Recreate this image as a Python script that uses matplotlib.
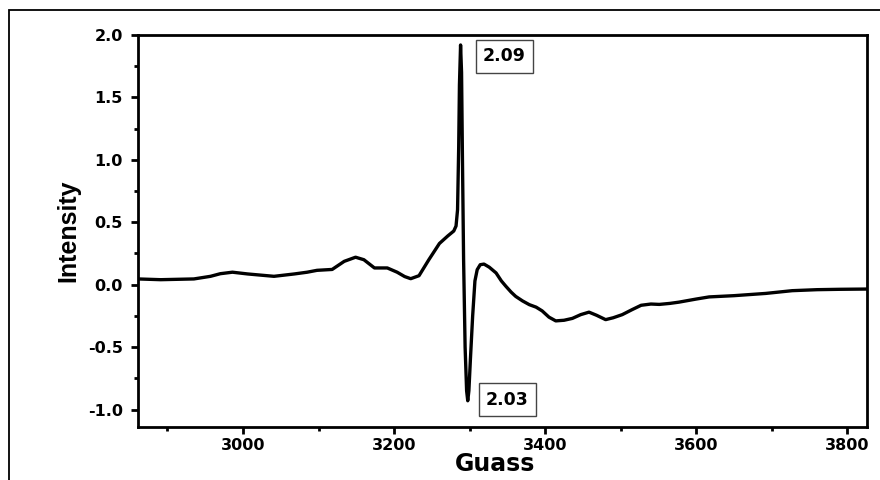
import matplotlib.pyplot as plt
from matplotlib.patches import Rectangle
from matplotlib.ticker import MultipleLocator

# EPR spectrum
field = [2861, 2891, 2935, 2957, 2970, 2986, 3006, 3041, 3068, 3085, 3098,
         3118, 3134, 3149, 3160, 3174, 3191, 3204, 3214, 3222, 3233, 3246,
         3260, 3271, 3279, 3282, 3284, 3285.5, 3286.5, 3288, 3289.3, 3290.5,
         3292, 3294, 3296, 3297.5, 3299, 3301, 3304, 3307, 3310, 3314, 3319,
         3326, 3335, 3342, 3348, 3355, 3361, 3370, 3379, 3388, 3396, 3405,
         3414, 3425, 3436, 3447, 3458, 3468, 3480, 3490, 3502, 3515, 3527,
         3540, 3551, 3565, 3577, 3600, 3617, 3650, 3692, 3727, 3760, 3790,
         3826]
intensity = [0.046, 0.04, 0.046, 0.067, 0.088, 0.10, 0.086, 0.067, 0.086, 0.10, 0.115,
             0.122, 0.187, 0.22, 0.20, 0.134, 0.134, 0.10, 0.065, 0.048, 0.072, 0.20,
             0.33, 0.39, 0.43, 0.47, 0.6, 1.1, 1.6, 1.92, 1.7, 1.0,
             0.2, -0.5, -0.85, -0.93, -0.85, -0.6, -0.25, 0.03, 0.12, 0.16, 0.165,
             0.14, 0.094, 0.03, -0.013, -0.06, -0.094, -0.13, -0.16, -0.18, -0.21, -0.26,
             -0.29, -0.285, -0.27, -0.24, -0.22, -0.245, -0.28, -0.265, -0.24, -0.2, -0.165,
             -0.155, -0.158, -0.15, -0.14, -0.115, -0.098, -0.088, -0.07, -0.048, -0.04, -0.037,
             -0.035]

labels = ['2.09', '2.03']
label_pos = [(3346, 1.83), (3350, -0.92)]

plt.rcParams['font.family'] = 'DejaVu Sans'
plt.rcParams['font.weight'] = 'bold'

fig = plt.figure(figsize=(8.8, 4.8), dpi=100)
ax = fig.add_axes([138 / 880, 1 - 427 / 480, (867 - 138) / 880, (427 - 35) / 480])

ax.plot(field, intensity, color='black', linewidth=2.4, solid_joinstyle='round',
        solid_capstyle='round')

ax.set_xlim(2861, 3826)
ax.set_ylim(-1.14, 2.0)
ax.xaxis.set_major_locator(MultipleLocator(200))
ax.xaxis.set_minor_locator(MultipleLocator(100))
ax.yaxis.set_major_locator(MultipleLocator(0.5))
ax.yaxis.set_minor_locator(MultipleLocator(0.25))
ax.yaxis.set_major_formatter(plt.FuncFormatter(lambda v, p: f'{v:.1f}'))

for s in ax.spines.values():
    s.set_linewidth(2)
ax.tick_params(which='both', direction='out', width=2, top=False, right=False)
ax.tick_params(which='major', length=5, labelsize=11.5)
ax.tick_params(axis='x', which='major', pad=3)
ax.tick_params(axis='y', which='major', pad=6)
ax.tick_params(which='minor', length=3)

ax.set_xlabel('Guass', fontsize=17, fontweight='bold', labelpad=-1)
ax.xaxis.set_label_coords(0.49, -0.065, transform=ax.transAxes)
ax.xaxis.label.set_va('top')
ax.set_ylabel('Intensity', fontsize=18, fontweight='bold', family='Liberation Sans',
              labelpad=5)

for txt, (x, y) in zip(labels, label_pos):
    ax.text(x, y, txt, fontsize=12.5, fontweight='bold', ha='center', va='center',
            bbox=dict(boxstyle='square,pad=0.42', facecolor='white',
                      edgecolor='#444444', linewidth=1))

# outer frame around the whole picture
fig.patches.append(Rectangle((9 / 880, -0.05), 1.0, 1 - 10 / 480 + 0.05,
                             transform=fig.transFigure, fill=False,
                             edgecolor='black', linewidth=1.3))

fig.savefig('out.png', dpi=100)
